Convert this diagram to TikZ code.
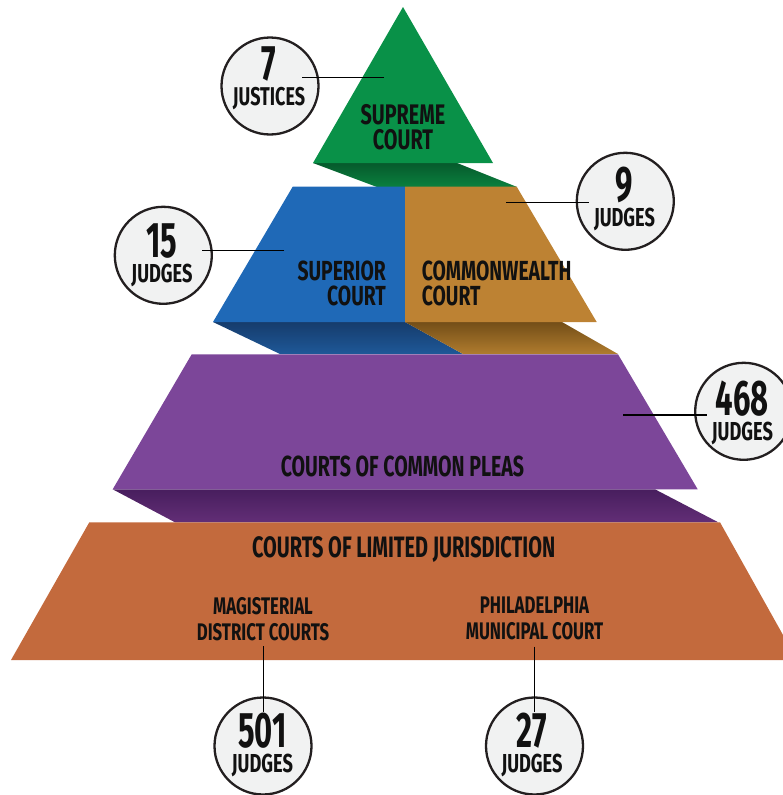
\documentclass[tikz,border=0pt]{standalone}
\usepackage{fontspec}
\newfontfamily\cf{Fira Sans}[FakeStretch=0.70]
\newfontfamily\cfw{Fira Sans}[FakeStretch=0.675]
\newfontfamily\cfn{Fira Sans}[FakeStretch=0.62]
\newcommand\bdgtext[2]{{\cfn\bfseries\fontsize{50}{25}\selectfont #1}\\#2}
\definecolor{sgreen}{RGB}{9,145,72}
\definecolor{sblue}{RGB}{31,105,183}
\definecolor{stan}{RGB}{189,130,51}
\definecolor{spurple}{RGB}{124,70,153}
\definecolor{sorange}{RGB}{195,106,61}
\definecolor{cfill}{RGB}{241,242,242}
\definecolor{cline}{RGB}{35,31,32}
\definecolor{txt}{RGB}{17,17,17}
\begin{document}
\begin{tikzpicture}[x=1pt,y=-1pt,
  lbl/.style={font=\cf\bfseries, text=txt, inner sep=0pt},
  one/.style={text height=#1, text depth=0pt},
  cnt/.style={lbl, align=center, font=\cf\bfseries\fontsize{26}{25}\selectfont},
  badge/.style={circle, draw=cline, line width=2.3pt, fill=cfill, minimum size=97pt, inner sep=0pt},
  conn/.style={draw=black, line width=1.3pt}]
\useasboundingbox (0,0) rectangle (783,795);
\clip (0,0) rectangle (783,795);
% supreme
\shade[top color={rgb,255:red,6;green,90;blue,44}, bottom color={rgb,255:red,10;green,128;blue,62}]
  (313,163) -- (457,163) -- (517,187) -- (377,187) -- cycle;
\fill[sgreen] (403,7) -- (493,163) -- (313,163) -- cycle;
% superior / commonwealth
\shade[top color={rgb,255:red,22;green,60;blue,108}, bottom color={rgb,255:red,30;green,88;blue,152}]
  (213,322) -- (405,322) -- (463,354) -- (280,354) -- cycle;
\shade[top color={rgb,255:red,115;green,78;blue,24}, bottom color={rgb,255:red,176;green,124;blue,46}]
  (405,322) -- (562,322) -- (618,354) -- (463,354) -- cycle;
\fill[sblue] (292.7,186.7) -- (405,186.7) -- (405,322) -- (213,322) -- cycle;
\fill[stan] (405,186.7) -- (516.7,186.7) -- (596.7,322) -- (405,322) -- cycle;
% common pleas
\shade[top color={rgb,255:red,72;green,30;blue,94}, bottom color={rgb,255:red,98;green,46;blue,118}]
  (112.7,489.3) -- (655,489.3) -- (718.3,522.3) -- (175,522.3) -- cycle;
\fill[spurple] (191.7,354.3) -- (618,354.3) -- (697.7,489.3) -- (112.7,489.3) -- cycle;
% limited jurisdiction
\fill[sorange] (89.3,522.3) -- (720,522.3) -- (797,660) -- (11,660) -- cycle;

% texts in pyramid
\node[lbl, align=center, font=\cf\bfseries\fontsize{28.3}{24.5}\selectfont] (tsup) at (403,127) {SUPREME\\COURT};
\node[lbl, align=right, anchor=east, font=\cf\bfseries\fontsize{27.6}{24.3}\selectfont] (tsupr) at (386,283.3) {SUPERIOR\\COURT};
\node[lbl, align=left, anchor=west, font=\cf\bfseries\fontsize{27.6}{24.3}\selectfont] (tcom) at (421.7,283.3) {COMMONWEALTH\\COURT};
\node[lbl, one=20pt, font=\cfw\bfseries\fontsize{29}{29}\selectfont] (tcp) at (402.5,466.7) {COURTS OF COMMON PLEAS};
\node[lbl, one=20.3pt, font=\cfw\bfseries\fontsize{29.5}{29}\selectfont] (tlj) at (403.7,547) {COURTS OF LIMITED JURISDICTION};
\node[lbl, align=center, font=\cf\bfseries\fontsize{24}{26}\selectfont] (tmag) at (263,618.8) {MAGISTERIAL\\DISTRICT COURTS};
\node[lbl, align=center, font=\cf\bfseries\fontsize{24}{26}\selectfont] (tphl) at (534.5,618.8) {PHILADELPHIA\\MUNICIPAL COURT};

% badges
\node[badge] (c7) at (270,86) {};
\node[badge] (c15) at (163.3,255.3) {};
\node[badge] (c9) at (625.3,201.3) {};
\node[badge] (c468) at (743.7,411.3) {};
\node[badge] (c501) at (263,746) {};
\node[badge] (c27) at (534.5,746) {};

% connectors
\coordinate (p7) at (384,77.7);   \coordinate (q7) at (302,77.7);
\coordinate (p15) at (284,250.7); \coordinate (q15) at (201.7,250.7);
\coordinate (p9) at (506,202.7);  \coordinate (q9) at (589,202.7);
\coordinate (p468) at (623.3,415); \coordinate (q468) at (706.7,415);
\coordinate (p501) at (263.3,646); \coordinate (q501) at (263.3,712);
\coordinate (p27) at (534.5,646.7); \coordinate (q27) at (534.5,712);
\draw[conn] (p7) -- (q7);
\draw[conn] (p15) -- (q15);
\draw[conn] (p9) -- (q9);
\draw[conn] (p468) -- (q468);
\draw[conn] (p501) -- (q501);
\draw[conn] (p27) -- (q27);

% badge texts
\node[cnt, font=\cf\bfseries\fontsize{25.7}{25}\selectfont] (t7) at (269,78.5) {\bdgtext{7}{JUSTICES}};
\node[cnt] (t15) at (162,255.3) {\bdgtext{15}{JUDGES}};
\node[cnt] (t9) at (624.5,198.6) {\bdgtext{9}{JUDGES}};
\node[cnt] (t468) at (742.4,413) {\bdgtext{468}{JUDGES}};
\node[cnt] (t501) at (262.4,745.3) {\bdgtext{501}{JUDGES}};
\node[cnt] (t27) at (532,745.3) {\bdgtext{27}{JUDGES}};
\end{tikzpicture}
\end{document}
